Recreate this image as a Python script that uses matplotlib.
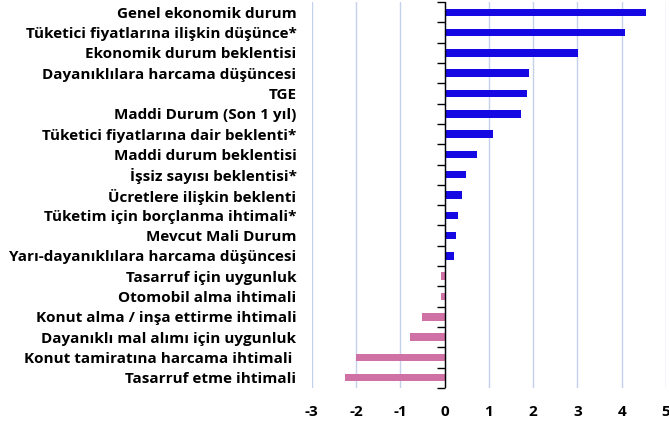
import numpy as np
import matplotlib.pyplot as plt
from matplotlib import rcParams

rcParams['font.family'] = ['Open Sans', 'DejaVu Sans']
rcParams['font.weight'] = 'bold'

categories = [
    "Genel ekonomik durum",
    "Tüketici fiyatlarına ilişkin düşünce*",
    "Ekonomik durum beklentisi",
    "Dayanıklılara harcama düşüncesi",
    "TGE",
    "Maddi Durum (Son 1 yıl)",
    "Tüketici fiyatlarına dair beklenti*",
    "Maddi durum beklentisi",
    "İşsiz sayısı beklentisi*",
    "Ücretlere ilişkin beklenti",
    "Tüketim için borçlanma ihtimali*",
    "Mevcut Mali Durum",
    "Yarı-dayanıklılara harcama düşüncesi",
    "Tasarruf için uygunluk",
    "Otomobil alma ihtimali",
    "Konut alma / inşa ettirme ihtimali",
    "Dayanıklı mal alımı için uygunluk",
    "Konut tamiratına harcama ihtimali ",
    "Tasarruf etme ihtimali",
]
values = [4.54, 4.07, 3.02, 1.90, 1.85, 1.73, 1.10, 0.74, 0.49, 0.39,
          0.31, 0.25, 0.22, -0.09, -0.09, -0.50, -0.77, -1.99, -2.25]
xticks = [-3, -2, -1, 0, 1, 2, 3, 4, 5]

blue = '#1508e2'
pink = '#d071a6'

fig = plt.figure(figsize=(6.69, 4.23), dpi=100)
ax = fig.add_axes([0.466, 0.083, 0.5295, 0.912])

n = len(categories)
ypos = np.arange(n)
colors = [blue if v >= 0 else pink for v in values]
ax.barh(ypos, values, height=0.37, color=colors, zorder=3)

ax.set_xlim(-3, 5)
ax.set_ylim(n - 0.5, -0.5)
ax.set_xticks(xticks)
ax.set_xticklabels([str(t) for t in xticks], fontsize=11, fontweight='bold')
ax.tick_params(axis='x', length=0, pad=12)
ax.set_yticks(ypos)
ax.set_yticklabels(categories, fontsize=11, fontweight='bold')
ax.tick_params(axis='y', length=0, pad=11)
ax.grid(axis='x', color='#c3d1ea', linewidth=1, zorder=0)

for s in ax.spines.values():
    s.set_visible(False)

# zero line with tick marks at category borders
ax.axvline(0, color='black', linewidth=1, zorder=4)
bounds = np.arange(n + 1) - 0.5
ax.plot(np.zeros(n + 1), bounds, ls='', marker=0, ms=6, mew=1,
        color='black', zorder=4, clip_on=False)

fig.savefig('out.png', dpi=100)
